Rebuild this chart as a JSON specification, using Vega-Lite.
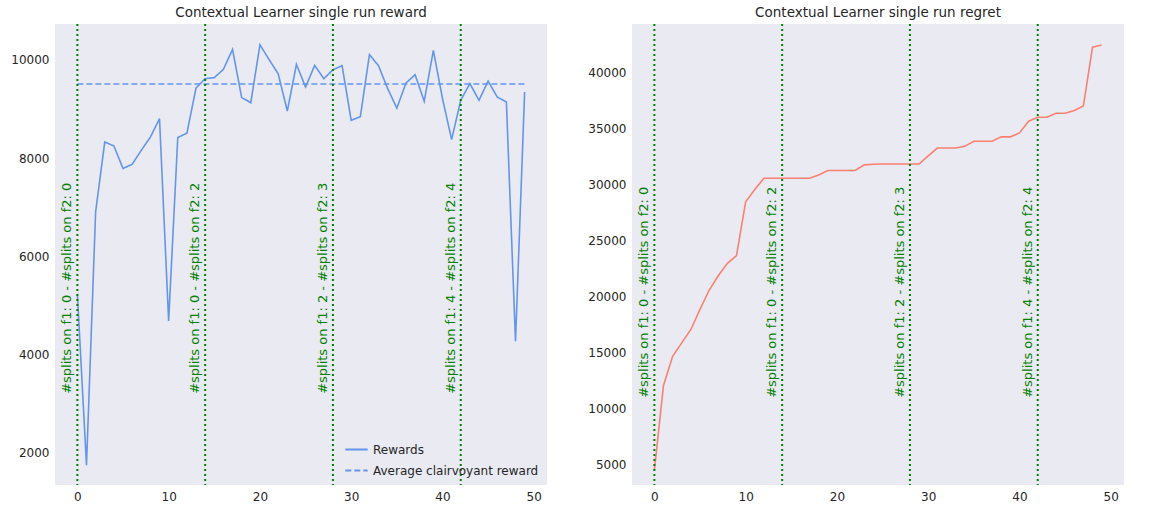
{
  "$schema": "https://vega.github.io/schema/vega-lite/v6.json",
  "padding": {"left": 10, "top": 5, "right": 5, "bottom": 5},
  "datasets": {
    "rewards": [
      {"t":0,"v":5240,"s":"Rewards"},{"t":1,"v":1745,"s":"Rewards"},{"t":2,"v":6905,"s":"Rewards"},{"t":3,"v":8330,"s":"Rewards"},{"t":4,"v":8250,"s":"Rewards"},
      {"t":5,"v":7790,"s":"Rewards"},{"t":6,"v":7875,"s":"Rewards"},{"t":7,"v":8160,"s":"Rewards"},{"t":8,"v":8430,"s":"Rewards"},{"t":9,"v":8805,"s":"Rewards"},
      {"t":10,"v":4685,"s":"Rewards"},{"t":11,"v":8420,"s":"Rewards"},{"t":12,"v":8510,"s":"Rewards"},{"t":13,"v":9430,"s":"Rewards"},{"t":14,"v":9620,"s":"Rewards"},
      {"t":15,"v":9640,"s":"Rewards"},{"t":16,"v":9810,"s":"Rewards"},{"t":17,"v":10215,"s":"Rewards"},{"t":18,"v":9235,"s":"Rewards"},{"t":19,"v":9130,"s":"Rewards"},
      {"t":20,"v":10310,"s":"Rewards"},{"t":21,"v":10010,"s":"Rewards"},{"t":22,"v":9720,"s":"Rewards"},{"t":23,"v":8960,"s":"Rewards"},{"t":24,"v":9910,"s":"Rewards"},
      {"t":25,"v":9450,"s":"Rewards"},{"t":26,"v":9890,"s":"Rewards"},{"t":27,"v":9620,"s":"Rewards"},{"t":28,"v":9800,"s":"Rewards"},{"t":29,"v":9885,"s":"Rewards"},
      {"t":30,"v":8770,"s":"Rewards"},{"t":31,"v":8845,"s":"Rewards"},{"t":32,"v":10110,"s":"Rewards"},{"t":33,"v":9880,"s":"Rewards"},{"t":34,"v":9415,"s":"Rewards"},
      {"t":35,"v":9020,"s":"Rewards"},{"t":36,"v":9530,"s":"Rewards"},{"t":37,"v":9700,"s":"Rewards"},{"t":38,"v":9160,"s":"Rewards"},{"t":39,"v":10195,"s":"Rewards"},
      {"t":40,"v":9215,"s":"Rewards"},{"t":41,"v":8380,"s":"Rewards"},{"t":42,"v":9180,"s":"Rewards"},{"t":43,"v":9520,"s":"Rewards"},{"t":44,"v":9180,"s":"Rewards"},
      {"t":45,"v":9570,"s":"Rewards"},{"t":46,"v":9245,"s":"Rewards"},{"t":47,"v":9145,"s":"Rewards"},{"t":48,"v":4270,"s":"Rewards"},{"t":49,"v":9350,"s":"Rewards"},
      {"t":0,"v":9510,"s":"Average clairvoyant reward"},{"t":49,"v":9510,"s":"Average clairvoyant reward"}
    ],
    "regret": [
      {"t":0,"v":4500},{"t":1,"v":12100},{"t":2,"v":14700},{"t":3,"v":15900},{"t":4,"v":17100},
      {"t":5,"v":18900},{"t":6,"v":20600},{"t":7,"v":21900},{"t":8,"v":23000},{"t":9,"v":23700},
      {"t":10,"v":28500},{"t":11,"v":29600},{"t":12,"v":30600},{"t":13,"v":30600},{"t":14,"v":30600},
      {"t":15,"v":30600},{"t":16,"v":30600},{"t":17,"v":30600},{"t":18,"v":30900},{"t":19,"v":31300},
      {"t":20,"v":31300},{"t":21,"v":31300},{"t":22,"v":31300},{"t":23,"v":31800},{"t":24,"v":31850},
      {"t":25,"v":31870},{"t":26,"v":31870},{"t":27,"v":31870},{"t":28,"v":31870},{"t":29,"v":31870},
      {"t":30,"v":32600},{"t":31,"v":33300},{"t":32,"v":33300},{"t":33,"v":33300},{"t":34,"v":33450},
      {"t":35,"v":33900},{"t":36,"v":33900},{"t":37,"v":33900},{"t":38,"v":34300},{"t":39,"v":34300},
      {"t":40,"v":34650},{"t":41,"v":35700},{"t":42,"v":36050},{"t":43,"v":36050},{"t":44,"v":36400},
      {"t":45,"v":36400},{"t":46,"v":36650},{"t":47,"v":37050},{"t":48,"v":42300},{"t":49,"v":42500}
    ],
    "splits": [
      {"t":0,"label":"#splits on f1: 0 - #splits on f2: 0"},
      {"t":14,"label":"#splits on f1: 0 - #splits on f2: 2"},
      {"t":28,"label":"#splits on f1: 2 - #splits on f2: 3"},
      {"t":42,"label":"#splits on f1: 4 - #splits on f2: 4"}
    ]
  },
  "config": {
    "font": "DejaVu Sans",
    "view": {"fill": "#EAEAF2", "stroke": null},
    "axis": {"grid": false, "domain": false, "ticks": false, "labelFontSize": 12, "labelColor": "#262626", "labelPadding": 6, "title": null, "format": "d"},
    "title": {"fontSize": 13.5, "fontWeight": "normal", "color": "#262626"}
  },
  "spacing": 40,
  "resolve": {"legend": {"strokeDash": "independent"}},
  "hconcat": [
    {
      "title": "Contextual Learner single run reward",
      "width": 492,
      "height": 461,
      "layer": [
        {
          "data": {"name": "rewards"},
          "mark": {"type": "line", "strokeWidth": 1.6, "color": "#6495ED"},
          "encoding": {
            "x": {"field": "t", "type": "quantitative", "scale": {"domain": [-2.45, 51.45], "nice": false, "zero": false}, "axis": {"values": [0, 10, 20, 30, 40, 50]}},
            "y": {"field": "v", "type": "quantitative", "scale": {"domain": [1344, 10733], "nice": false, "zero": false}, "axis": {"values": [2000, 4000, 6000, 8000, 10000]}},
            "detail": {"field": "s"},
            "strokeDash": {
              "field": "s", "type": "nominal",
              "scale": {"domain": ["Rewards", "Average clairvoyant reward"], "range": [[1, 0], [6, 3]]},
              "legend": {"title": null, "orient": "bottom-right", "labelFontSize": 12, "labelLimit": 300, "labelColor": "#262626", "symbolType": "stroke", "symbolStrokeColor": "#6495ED", "symbolSize": 500, "symbolStrokeWidth": 2, "offset": 8}
            }
          }
        },
        {
          "data": {"name": "splits"},
          "mark": {"type": "rule", "color": "#008000", "strokeDash": [2, 3], "strokeWidth": 2},
          "encoding": {"x": {"field": "t", "type": "quantitative"}}
        },
        {
          "data": {"name": "splits"},
          "mark": {"type": "text", "angle": 270, "align": "left", "baseline": "bottom", "dy": -3, "color": "#008000", "fontSize": 13},
          "encoding": {"x": {"field": "t", "type": "quantitative"}, "y": {"datum": 3200, "type": "quantitative"}, "text": {"field": "label"}}
        }
      ]
    },
    {
      "title": "Contextual Learner single run regret",
      "width": 492,
      "height": 461,
      "layer": [
        {
          "data": {"name": "regret"},
          "mark": {"type": "line", "strokeWidth": 1.6, "color": "#FA8072"},
          "encoding": {
            "x": {"field": "t", "type": "quantitative", "scale": {"domain": [-2.45, 51.45], "nice": false, "zero": false}, "axis": {"values": [0, 10, 20, 30, 40, 50]}},
            "y": {"field": "v", "type": "quantitative", "scale": {"domain": [3214, 44375], "nice": false, "zero": false}, "axis": {"values": [5000, 10000, 15000, 20000, 25000, 30000, 35000, 40000]}}
          }
        },
        {
          "data": {"name": "splits"},
          "mark": {"type": "rule", "color": "#008000", "strokeDash": [2, 3], "strokeWidth": 2},
          "encoding": {"x": {"field": "t", "type": "quantitative"}}
        },
        {
          "data": {"name": "splits"},
          "mark": {"type": "text", "angle": 270, "align": "left", "baseline": "bottom", "dy": -3, "color": "#008000", "fontSize": 13},
          "encoding": {"x": {"field": "t", "type": "quantitative"}, "y": {"datum": 11000, "type": "quantitative"}, "text": {"field": "label"}}
        }
      ]
    }
  ]
}
